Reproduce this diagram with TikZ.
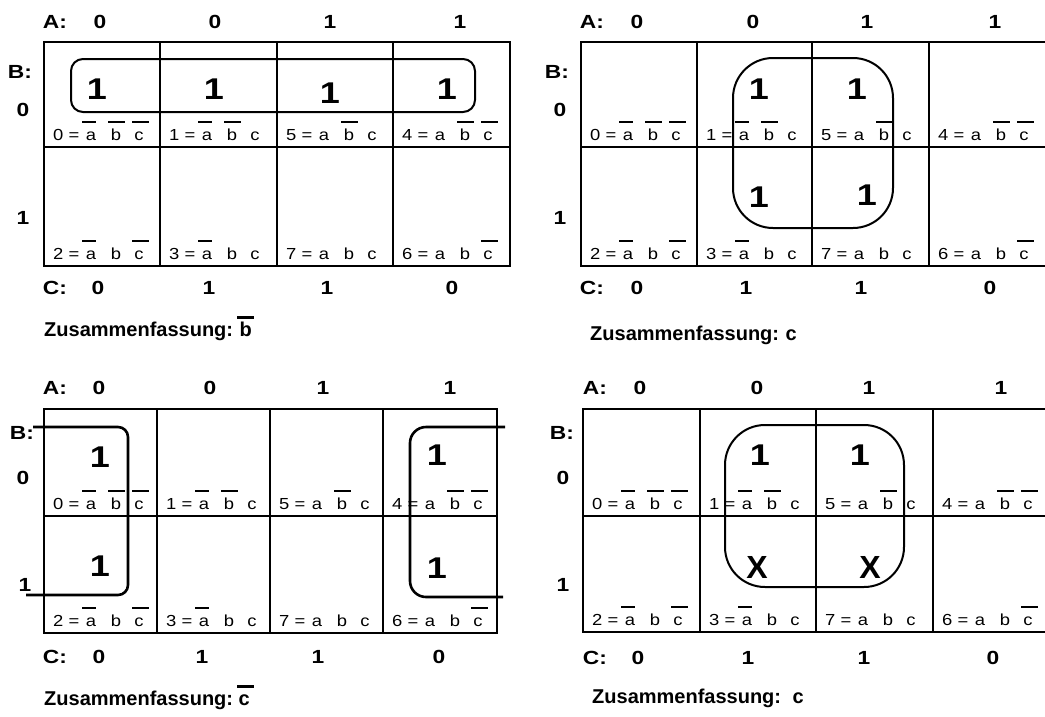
\documentclass[tikz,border=0pt]{standalone}
\usepackage{fontspec}
\setmainfont{Liberation Sans}
\newfontfamily\lblface[FakeStretch=1.15]{Liberation Sans}
\newfontfamily\hdrface[FakeStretch=1.2]{Liberation Sans Bold}
\newfontfamily\oneface[FakeStretch=1.2]{Liberation Sans Bold}
\newfontfamily\boldface{Liberation Sans Bold}

\tikzset{
  gridline/.style={line width=2pt},
  loopline/.style={line width=2pt},
  thickloop/.style={line width=2.6pt},
  lbl/.style={font=\lblface\fontsize{16}{16}\selectfont, inner sep=0pt},
  hdr/.style={font=\hdrface\fontsize{19}{19}\selectfont, inner sep=0pt},
  one/.style={font=\oneface\fontsize{30}{30}\selectfont, inner sep=0pt},
  dontcare/.style={font=\boldface\fontsize{32}{32}\selectfont, inner sep=0pt},
  zus/.style={font=\boldface\fontsize{20}{20}\selectfont, inner sep=0pt, anchor=base west},
  bar/.style={line width=2.5pt},
  zbar/.style={line width=3pt},
}

% #1 prefix, #2-#6 column borders, #7 top, #8 middle, #9 bottom
\newcommand\kmap[9]{%
  \draw[gridline] (#2,#7) rectangle (#6,#9);
  \draw[gridline] (#2,#8) -- (#6,#8);
  \foreach \xx in {#3,#4,#5} \draw[gridline] (\xx,#7) -- (\xx,#9);
  \foreach \i/\r/\dg/\ua/\ub/\uc in {0/0/0/1/1/1, 1/0/1/1/1/0, 2/0/5/0/1/0, 3/0/4/0/1/1,
                                      0/1/2/1/0/1, 1/1/3/1/0/0, 2/1/7/0/0/0, 3/1/6/0/0/1}{%
    \pgfmathsetmacro\cl{{#2,#3,#4,#5}[\i]}
    \pgfmathsetmacro\cb{{#8,#9}[\r]}
    \node[lbl, anchor=base west] (#1-n\dg) at ({\cl+9},{\cb-6.5}) {\dg\ =};
    \node[lbl, anchor=base] (#1-a\dg) at ({\cl+47},{\cb-6.5}) {a};
    \node[lbl, anchor=base] (#1-b\dg) at ({\cl+72},{\cb-6.5}) {b};
    \node[lbl, anchor=base] (#1-c\dg) at ({\cl+95},{\cb-6.5}) {c};
    \ifnum\ua=1 \draw[bar] ({\cl+38},{\cb-25}) -- ({\cl+52},{\cb-25}); \fi
    \ifnum\ub=1 \draw[bar] ({\cl+64},{\cb-25}) -- ({\cl+81},{\cb-25}); \fi
    \ifnum\uc=1 \draw[bar] ({\cl+88},{\cb-25}) -- ({\cl+105},{\cb-25}); \fi
  }%
}

\begin{document}
\begin{tikzpicture}[x=1pt, y=-1pt]
\useasboundingbox (0,0) rectangle (1045,716);

% ---------- map 1: top left ----------
\kmap{p}{44}{160}{277}{393}{510}{42}{147}{266}
\node[hdr] (p-A) at (55,22) {A:};
\node[hdr] (p-A1) at (100,22) {0};
\node[hdr] (p-A2) at (215,22) {0};
\node[hdr] (p-A3) at (330,22) {1};
\node[hdr] (p-A4) at (460,22) {1};
\node[hdr] (p-B) at (20,72) {B:};
\node[hdr] (p-B0) at (23,110) {0};
\node[hdr] (p-B1) at (23,218) {1};
\node[hdr] (p-C) at (55,288) {C:};
\node[hdr] (p-C1) at (98,288) {0};
\node[hdr] (p-C2) at (209,288) {1};
\node[hdr] (p-C3) at (327,288) {1};
\node[hdr] (p-C4) at (452,288) {0};
\draw[loopline, rounded corners=12pt] (71,59) rectangle (475,112);
\node[one] (p-o1) at (97,89) {1};
\node[one] (p-o2) at (214,89) {1};
\node[one] (p-o3) at (330,93) {1};
\node[one] (p-o4) at (447,89) {1};
\node[zus] (p-zus) at (44,336) {Zusammenfassung:};
\node[zus] (p-res) at ([xshift=6pt]p-zus.base east) {b};
\draw[zbar] ([xshift=-2pt,yshift=18.5pt]p-res.base west) -- ([xshift=2pt,yshift=18.5pt]p-res.base east);

% ---------- map 2: top right ----------
\kmap{q}{581}{697}{812}{929}{1047}{42}{147}{266}
\node[hdr] (q-A) at (592,22) {A:};
\node[hdr] (q-A1) at (637,22) {0};
\node[hdr] (q-A2) at (753,22) {0};
\node[hdr] (q-A3) at (867,22) {1};
\node[hdr] (q-A4) at (995,22) {1};
\node[hdr] (q-B) at (557,72) {B:};
\node[hdr] (q-B0) at (560,110) {0};
\node[hdr] (q-B1) at (560,218) {1};
\node[hdr] (q-C) at (592,288) {C:};
\node[hdr] (q-C1) at (637,288) {0};
\node[hdr] (q-C2) at (746,288) {1};
\node[hdr] (q-C3) at (861,288) {1};
\node[hdr] (q-C4) at (990,288) {0};
\draw[loopline, rounded corners=40pt] (733,58) rectangle (893,228);
\node[one] (q-o1) at (759,89) {1};
\node[one] (q-o2) at (857,89) {1};
\node[one] (q-o3) at (759,197) {1};
\node[one] (q-o4) at (867,195) {1};
\node[zus] (q-zus) at (590,340) {Zusammenfassung:};
\node[zus] (q-res) at ([xshift=6pt]q-zus.base east) {c};

% ---------- map 3: bottom left ----------
\kmap{r}{44}{157}{270}{383}{497}{409}{516}{633}
\node[hdr] (r-A) at (55,388) {A:};
\node[hdr] (r-A1) at (99,388) {0};
\node[hdr] (r-A2) at (210,388) {0};
\node[hdr] (r-A3) at (323,388) {1};
\node[hdr] (r-A4) at (450,388) {1};
\node[hdr] (r-B) at (22,433) {B:};
\node[hdr] (r-B0) at (23,478) {0};
\node[hdr] (r-B1) at (25,585) {1};
\node[hdr] (r-C) at (55,657) {C:};
\node[hdr] (r-C1) at (99,657) {0};
\node[hdr] (r-C2) at (202,657) {1};
\node[hdr] (r-C3) at (318,657) {1};
\node[hdr] (r-C4) at (439,657) {0};
\draw[thickloop, rounded corners=10pt] (33,427) -- (128,427) -- (128,595) -- (26,595);
\draw[thickloop, rounded corners=16pt] (505,427) -- (410,427) -- (410,597) -- (503,597);
\node[one] (r-o1) at (100,457) {1};
\node[one] (r-o2) at (100,566) {1};
\node[one] (r-o3) at (437,455) {1};
\node[one] (r-o4) at (437,568) {1};
\node[zus] (r-zus) at (44,705) {Zusammenfassung:};
\node[zus] (r-res) at ([xshift=5pt]r-zus.base east) {c};
\draw[zbar] ([xshift=-1pt,yshift=19pt]r-res.base west) -- ([xshift=4pt,yshift=19pt]r-res.base east);

% ---------- map 4: bottom right ----------
\kmap{s}{583}{700}{816}{933}{1049}{409}{516}{632}
\node[hdr] (s-A) at (595,388) {A:};
\node[hdr] (s-A1) at (640,388) {0};
\node[hdr] (s-A2) at (757,388) {0};
\node[hdr] (s-A3) at (869,388) {1};
\node[hdr] (s-A4) at (1001,388) {1};
\node[hdr] (s-B) at (562,433) {B:};
\node[hdr] (s-B0) at (563,478) {0};
\node[hdr] (s-B1) at (563,585) {1};
\node[hdr] (s-C) at (595,658) {C:};
\node[hdr] (s-C1) at (638,658) {0};
\node[hdr] (s-C2) at (748,658) {1};
\node[hdr] (s-C3) at (864,658) {1};
\node[hdr] (s-C4) at (993,658) {0};
\draw[loopline, rounded corners=40pt] (725,425) rectangle (904,587);
\node[one] (s-o1) at (760,455) {1};
\node[one] (s-o2) at (860,455) {1};
\node[dontcare] (s-x1) at (757,567) {X};
\node[dontcare] (s-x2) at (870,567) {X};
\node[zus] (s-zus) at (592,703) {Zusammenfassung:};
\node[zus] (s-res) at ([xshift=11pt]s-zus.base east) {c};
\end{tikzpicture}
\end{document}
